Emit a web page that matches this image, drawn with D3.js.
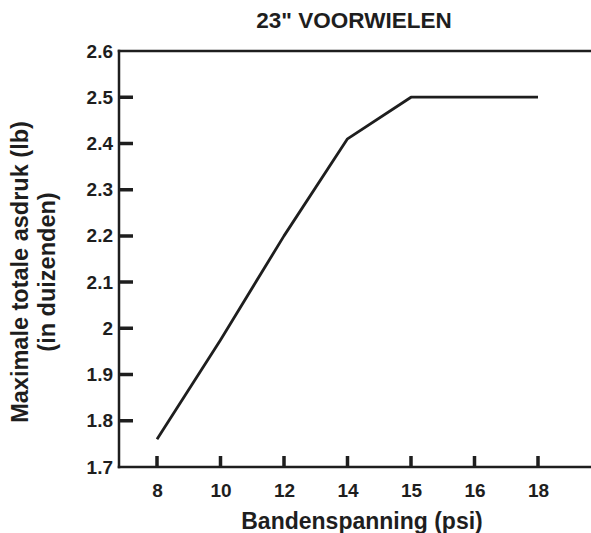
<!DOCTYPE html>
<html>
<head>
<meta charset="utf-8">
<script src="https://cdn.jsdelivr.net/npm/d3@7"></script>
<style>
  html, body { margin: 0; padding: 0; background: #fff; }
  svg { display: block; }
  text { font-family: "Liberation Sans", Arial, Helvetica, sans-serif; font-weight: bold; fill: #1e1e1e; }
</style>
</head>
<body>
<script>
// ---- data ----
const pressureCategories = ["8", "10", "12", "14", "15", "16", "18"];
const pressure = ["8", "10", "12", "14", "15", "16", "18"];
const maxLoad = [1.76, 1.975, 2.2, 2.41, 2.5, 2.5, 2.5];
const yTickValues = [1.7, 1.8, 1.9, 2.0, 2.1, 2.2, 2.3, 2.4, 2.5, 2.6];
const yTickLabels = ["1.7", "1.8", "1.9", "2", "2.1", "2.2", "2.3", "2.4", "2.5", "2.6"];
const yInnerTicks = [1.8, 1.9, 2.0, 2.1, 2.2, 2.3, 2.4, 2.5];
const titleText = "23\" VOORWIELEN";
const xTitle = "Bandenspanning (psi)";
const yTitleLines = ["Maximale totale asdruk (lb)", "(in duizenden)"];

// ---- layout ----
const W = 591, H = 533;
const plotLeft = 119, plotRight = 591, plotTop = 51, plotBottom = 467;
const ink = "#1e1e1e";

const svg = d3.select("body").append("svg").attr("width", W).attr("height", H);

const x = d3.scalePoint().domain(pressureCategories).range([157, 538]);
const y = d3.scaleLinear().domain([1.7, 2.6]).range([plotBottom, plotTop]);

// frame: top, bottom and left lines
svg.append("rect").attr("x", plotLeft - 1.25).attr("y", plotTop - 1.25)
  .attr("width", plotRight - plotLeft + 1.25).attr("height", 2.5).attr("fill", ink);
svg.append("rect").attr("x", plotLeft - 1.25).attr("y", plotBottom - 1.25)
  .attr("width", plotRight - plotLeft + 1.25).attr("height", 2.5).attr("fill", ink);
svg.append("rect").attr("x", plotLeft - 1.25).attr("y", plotTop - 1.25)
  .attr("width", 2.5).attr("height", plotBottom - plotTop + 2.5).attr("fill", ink);

// y labels
const yLabG = svg.append("g").attr("transform", `translate(${plotLeft},0)`)
  .call(d3.axisLeft(y).tickValues(yTickValues).tickSize(0).tickPadding(6)
    .tickFormat((d, i) => yTickLabels[i]));
yLabG.select(".domain").remove();
yLabG.selectAll(".tick line").remove();
yLabG.selectAll(".tick text").style("font-size", "19px").attr("fill", ink)
  .style("font-family", "'Liberation Sans', Arial, sans-serif").style("font-weight", "bold");

// y axis inner ticks (pointing into the plot)
const yTickPath = yInnerTicks.map(v => `M${plotLeft},${y(v)}h14`).join("");
svg.append("path").attr("d", yTickPath)
  .attr("fill", "none").attr("stroke", ink).attr("stroke-width", 3.5);

// x ticks (upward)
svg.append("g").attr("class", "x-inner-ticks")
  .selectAll("rect").data(pressureCategories).join("rect")
  .attr("x", d => x(d) - 1.75).attr("y", plotBottom - 11)
  .attr("width", 3.5).attr("height", 11)
  .attr("fill", ink);

// x labels
const xLabG = svg.append("g").attr("transform", `translate(0,${plotBottom})`)
  .call(d3.axisBottom(x).tickSize(0).tickPadding(17));
xLabG.select(".domain").remove();
xLabG.selectAll(".tick line").remove();
xLabG.selectAll(".tick text").style("font-size", "19px").attr("fill", ink)
  .style("font-family", "'Liberation Sans', Arial, sans-serif").style("font-weight", "bold");

// data line
const pts = pressure.map((p, i) => [x(p), y(maxLoad[i])]);
svg.append("path").attr("d", d3.line()(pts))
  .attr("fill", "none").attr("stroke", ink).attr("stroke-width", 2.8)
  .attr("stroke-linejoin", "round");

// title
svg.append("text").attr("x", 354).attr("y", 28).attr("text-anchor", "middle")
  .attr("font-size", 22.5).text(titleText);

// x title
svg.append("text").attr("x", 362).attr("y", 529).attr("text-anchor", "middle")
  .attr("font-size", 23).text(xTitle);

// y title
const yt = svg.append("text").attr("transform", `translate(28,272) rotate(-90)`)
  .attr("text-anchor", "middle").attr("font-size", 23.5);
yTitleLines.forEach((t, i) => {
  yt.append("tspan").attr("x", 0).attr("dy", i === 0 ? 0 : 27).text(t);
});
</script>
</body>
</html>
